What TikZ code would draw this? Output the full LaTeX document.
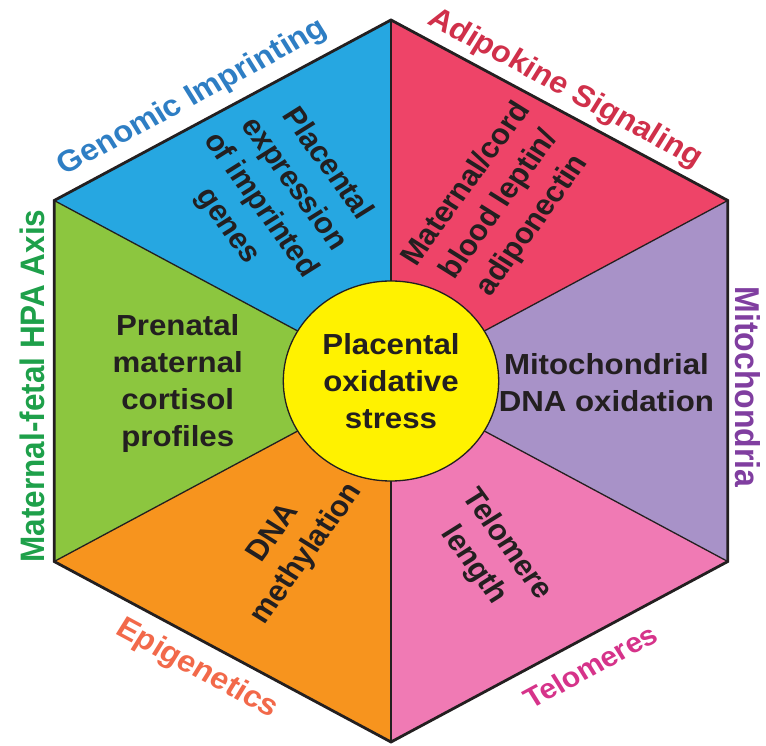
\documentclass[tikz,border=0pt]{standalone}
\usepackage{fontspec}
\setmainfont{Liberation Sans}
\definecolor{cblue}{RGB}{38,167,225}
\definecolor{cred}{RGB}{238,68,104}
\definecolor{cpurple}{RGB}{168,146,200}
\definecolor{cpink}{RGB}{240,122,180}
\definecolor{corange}{RGB}{247,148,30}
\definecolor{cgreen}{RGB}{140,198,63}
\definecolor{cyellow}{RGB}{255,242,0}
\definecolor{tblue}{RGB}{46,126,196}
\definecolor{tred}{RGB}{208,48,74}
\definecolor{tpurple}{RGB}{128,62,160}
\definecolor{tpink}{RGB}{214,51,138}
\definecolor{torange}{RGB}{242,105,74}
\definecolor{tgreen}{RGB}{30,160,74}
\definecolor{ink}{RGB}{35,31,32}
\begin{document}
\begin{tikzpicture}[x=1pt,y=1pt,
  edgelabel/.style={font=\bfseries\fontsize{30}{36}\selectfont, transform shape, inner sep=0pt},
  innerlabel/.style={font=\bfseries\fontsize{29}{37}\selectfont, text=ink, align=center, transform shape, inner sep=0pt},
  spoke/.style={draw=ink, line width=1.3pt},
]
\path[use as bounding box, fill=white] (0,0) rectangle (766,745);
\begin{scope}[shift={(391,364)}, xscale=1.077]
\coordinate (O) at (0,0);
\coordinate (VT) at (90:361);
\coordinate (VUR) at (30:361);
\coordinate (VLR) at (-30:361);
\coordinate (VB) at (-90:361);
\coordinate (VLL) at (-150:361);
\coordinate (VUL) at (150:361);
\fill[cblue] (O) -- (VT) -- (VUL) -- cycle;
\fill[cred] (O) -- (VT) -- (VUR) -- cycle;
\fill[cpurple] (O) -- (VUR) -- (VLR) -- cycle;
\fill[cpink] (O) -- (VLR) -- (VB) -- cycle;
\fill[corange] (O) -- (VB) -- (VLL) -- cycle;
\fill[cgreen] (O) -- (VLL) -- (VUL) -- cycle;
\draw[spoke] (O) -- (VT);
\draw[spoke] (O) -- (VUR);
\draw[spoke] (O) -- (VLR);
\draw[spoke] (O) -- (VB);
\draw[spoke] (O) -- (VLL);
\draw[spoke] (O) -- (VUL);
\draw[ink, line width=2.8pt, line join=miter] (VT) -- (VUR) -- (VLR) -- (VB) -- (VLL) -- (VUL) -- cycle;
\node[circle, minimum size=200pt, fill=cyellow, draw=ink, line width=1.3pt, transform shape, inner sep=0pt] (core) at (O) {};
\node[innerlabel] (coretext) at (O) {Placental\\oxidative\\stress};
\node[innerlabel, rotate=-56] (tblue) at (-106,186) {Placental\\expression\\of imprinted\\genes};
\node[innerlabel, rotate=56] (tred) at (101,176) {Maternal/cord\\blood leptin/\\adiponectin};
\node[innerlabel] (tpurple) at (200,-2) {Mitochondrial\\DNA oxidation};
\node[innerlabel, rotate=-56] (tpink) at (92,-174) {Telomere\\length};
\node[innerlabel, rotate=56] (torange) at (-93,-163) {DNA\\methylation};
\node[innerlabel] (tgreen) at (-198,-3) {Prenatal\\maternal\\cortisol\\profiles};
\node[edgelabel, text=tblue, rotate=30] (lblue) at (123:338) {Genomic Imprinting};
\node[edgelabel, text=tred, rotate=-30] (lred) at (61:334) {Adipokine Signaling};
\node[edgelabel, text=tpurple, rotate=-90, font=\bfseries\fontsize{32}{36}\selectfont] (lpurple) at (331,-6) {Mitochondria};
\node[edgelabel, text=tpink, rotate=30, font=\bfseries\fontsize{28}{34}\selectfont] (lpink) at (-57:340) {Telomeres};
\node[edgelabel, text=torange, rotate=-30] (lorange) at (-122:340) {Epigenetics};
\node[edgelabel, text=tgreen, rotate=90, font=\bfseries\fontsize{31.5}{36}\selectfont] (lgreen) at (-333,-5) {Maternal-fetal HPA Axis};
\end{scope}
\end{tikzpicture}
\end{document}
